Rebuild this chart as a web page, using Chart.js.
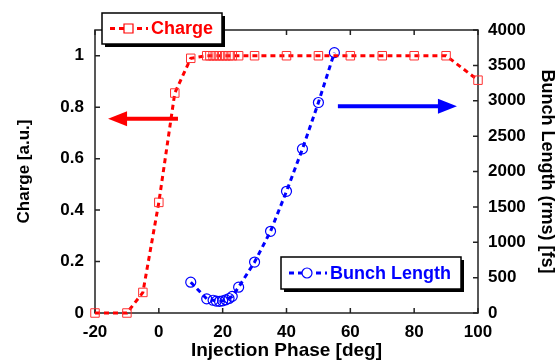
<!DOCTYPE html>
<html lang="en">
<head>
  <meta charset="UTF-8">
  <title>Charge and Bunch Length vs Injection Phase</title>
  <script src="https://cdn.jsdelivr.net/npm/chart.js"></script>
  <style>
    html, body { margin: 0; padding: 0; background: #fff; }
    #wrap { width: 556px; height: 363px; }
  </style>
</head>
<body>
  <div id="wrap"><canvas id="myChart" width="556" height="363"></canvas></div>

  <script>
    // values
    const chargePhase = [-20, -10, -5, 0, 5, 10, 15, 16, 17, 18, 19, 20, 21, 22, 23, 25, 30, 40, 50, 60, 70, 80, 90, 100]
    const charge = [0, 0, 0.08, 0.43, 0.855, 0.99, 1, 1, 1, 1, 1, 1, 1, 1, 1, 1, 1, 1, 1, 1, 1, 1, 1, 0.905]

    const bunchPhase = [10, 15, 17, 18, 19, 20, 21, 22, 23, 25, 30, 35, 40, 45, 50, 55]
    const bunchLength = [435, 200, 180, 168, 165, 172, 185, 205, 235, 365, 720, 1155, 1720, 2320, 2975, 3680]

    const xTicks = [-20, 0, 20, 40, 60, 80, 100]
    const chargeTicks = [0, 0.2, 0.4, 0.6, 0.8, 1]
    const bunchTicks = [0, 500, 1000, 1500, 2000, 2500, 3000, 3500, 4000]

    const RED = '#ff0000'
    const BLUE = '#0000ff'
    const FONT = 'Arial, "Liberation Sans", sans-serif'

    const toXY = (xs, ys) => xs.map((x, i) => ({ x: x, y: ys[i] }))
    const plain = v => String(v)

    // box, inward tick marks, legends and arrows
    const decorations = {
      id: 'decorations',
      beforeDatasetsDraw(chart) {
        const { ctx, chartArea: a, scales } = chart
        const len = 5
        ctx.save()
        ctx.strokeStyle = '#222'
        ctx.lineWidth = 1.5
        ctx.strokeRect(a.left, a.top, a.right - a.left, a.bottom - a.top)
        ctx.beginPath()
        xTicks.forEach(v => {
          const px = scales.x.getPixelForValue(v)
          ctx.moveTo(px, a.bottom); ctx.lineTo(px, a.bottom - len)
          ctx.moveTo(px, a.top); ctx.lineTo(px, a.top + len)
        })
        chargeTicks.forEach(v => {
          const py = scales.y.getPixelForValue(v)
          ctx.moveTo(a.left, py); ctx.lineTo(a.left + len, py)
        })
        bunchTicks.forEach(v => {
          const py = scales.y2.getPixelForValue(v)
          ctx.moveTo(a.right, py); ctx.lineTo(a.right - len, py)
        })
        ctx.stroke()
        ctx.restore()
      },
      afterDraw(chart) {
        const { ctx, scales } = chart

        const arrow = (x1, x2, y, color) => {
          const dir = Math.sign(x2 - x1)
          const head = 19
          ctx.save()
          ctx.strokeStyle = color
          ctx.fillStyle = color
          ctx.lineWidth = 4
          ctx.beginPath()
          ctx.moveTo(x1, y); ctx.lineTo(x2 - dir * head * 0.8, y)
          ctx.stroke()
          ctx.beginPath()
          ctx.moveTo(x2, y)
          ctx.lineTo(x2 - dir * head, y - 7.5)
          ctx.lineTo(x2 - dir * head, y + 7.5)
          ctx.closePath()
          ctx.fill()
          ctx.restore()
        }
        arrow(scales.x.getPixelForValue(6), scales.x.getPixelForValue(-15.9), scales.y.getPixelForValue(0.755), RED)
        arrow(scales.x.getPixelForValue(56.1), scales.x.getPixelForValue(93.4), scales.y2.getPixelForValue(2922), BLUE)

        const legendBox = (x, y, w, h, label, color, marker) => {
          ctx.save()
          ctx.fillStyle = '#000'
          ctx.fillRect(x + 3, y + 3, w, h)
          ctx.fillStyle = '#fff'
          ctx.fillRect(x, y, w, h)
          ctx.strokeStyle = '#000'
          ctx.lineWidth = 1.5
          ctx.strokeRect(x, y, w, h)
          const cy = y + h / 2
          ctx.strokeStyle = color
          ctx.lineWidth = 3
          ctx.setLineDash([5, 4])
          ctx.beginPath()
          ctx.moveTo(x + 8, cy); ctx.lineTo(x + 46, cy)
          ctx.stroke()
          ctx.setLineDash([])
          ctx.fillStyle = '#fff'
          ctx.lineWidth = 1.2
          ctx.beginPath()
          if (marker === 'rect') {
            ctx.rect(x + 22, cy - 4.5, 9, 9)
          } else {
            ctx.arc(x + 26, cy, 5, 0, Math.PI * 2)
          }
          ctx.fill()
          ctx.stroke()
          ctx.fillStyle = color
          ctx.font = 'bold 18px ' + FONT
          ctx.textBaseline = 'middle'
          ctx.textAlign = 'left'
          ctx.fillText(label, x + 49, cy + 1)
          ctx.restore()
        }
        legendBox(102, 13, 120, 31, 'Charge', RED, 'rect')
        legendBox(281, 257, 180, 32, 'Bunch Length', BLUE, 'circle')
      }
    }

    const ctx = document.getElementById('myChart').getContext('2d')
    const myChart = new Chart(ctx, {
      type: 'line',
      data: {
        datasets: [
          {
            label: 'Charge',
            data: toXY(chargePhase, charge),
            yAxisID: 'y',
            borderColor: RED,
            borderWidth: 3,
            borderDash: [5, 4],
            pointStyle: 'rect',
            pointRadius: 6,
            pointBorderWidth: 1,
            pointBorderColor: '#ff3030',
            pointBackgroundColor: 'rgba(255,255,255,0)',
            fill: false,
            tension: 0,
            clip: false
          },
          {
            label: 'Bunch Length',
            data: toXY(bunchPhase, bunchLength),
            yAxisID: 'y2',
            borderColor: BLUE,
            borderWidth: 3,
            borderDash: [5, 4],
            pointStyle: 'circle',
            pointRadius: 5,
            pointBorderWidth: 1.2,
            pointBorderColor: BLUE,
            pointBackgroundColor: 'rgba(255,255,255,0)',
            fill: false,
            tension: 0,
            clip: false
          }
        ]
      },
      options: {
        responsive: false,
        animation: false,
        events: [],
        layout: { padding: { top: 30, left: 0, right: 0, bottom: 0 } },
        plugins: {
          legend: { display: false },
          tooltip: { enabled: false }
        },
        scales: {
          x: {
            type: 'linear',
            min: -20,
            max: 100,
            afterBuildTicks: s => { s.ticks = xTicks.map(v => ({ value: v })) },
            afterFit: s => { s.height = 50 },
            grid: { display: false, drawTicks: false },
            border: { display: false },
            ticks: { padding: 9, color: '#000', callback: plain, font: { family: FONT, size: 17, weight: 'bold' } },
            title: {
              display: true,
              text: 'Injection Phase [deg]',
              color: '#000',
              padding: { top: 2.5, bottom: 2.5 },
              font: { family: FONT, size: 19, weight: 'bold', lineHeight: 1 }
            }
          },
          y: {
            type: 'linear',
            position: 'left',
            min: 0,
            max: 1.1,
            afterBuildTicks: s => { s.ticks = chargeTicks.map(v => ({ value: v })) },
            afterFit: s => { s.width = 95 },
            grid: { display: false, drawTicks: false },
            border: { display: false },
            ticks: { padding: 11, color: '#000', callback: plain, font: { family: FONT, size: 17, weight: 'bold' } },
            title: {
              display: true,
              text: 'Charge [a.u.]',
              color: '#000',
              padding: { top: 15.5, bottom: 15.5 },
              font: { family: FONT, size: 17, weight: 'bold', lineHeight: 1 }
            }
          },
          y2: {
            type: 'linear',
            position: 'right',
            min: 0,
            max: 4000,
            afterBuildTicks: s => { s.ticks = bunchTicks.map(v => ({ value: v })) },
            afterFit: s => { s.width = 78 },
            grid: { display: false, drawTicks: false },
            border: { display: false },
            ticks: { padding: 10, color: '#000', callback: plain, font: { family: FONT, size: 17, weight: 'bold' } },
            title: {
              display: true,
              text: 'Bunch Length (rms) [fs]',
              color: '#000',
              padding: { top: 0, bottom: 0 },
              font: { family: FONT, size: 18, weight: 'bold', lineHeight: 1 }
            }
          }
        }
      },
      plugins: [decorations]
    })
  </script>
</body>
</html>
